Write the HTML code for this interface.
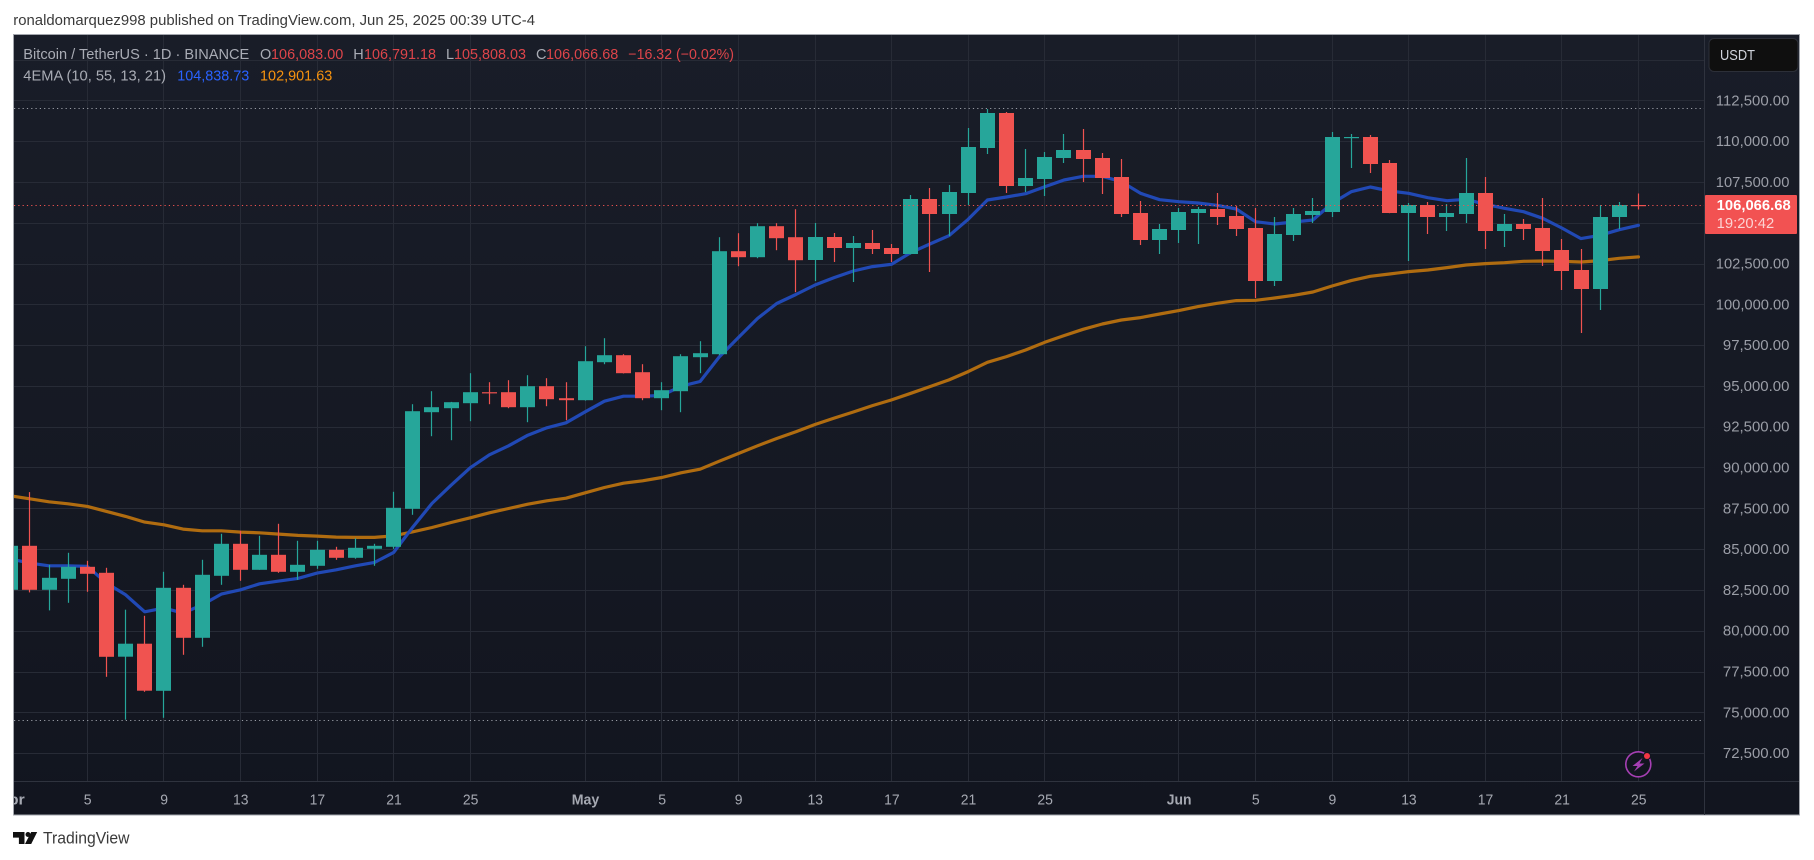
<!DOCTYPE html>
<html lang="en">
<head>
<meta charset="utf-8">
<title>Bitcoin / TetherUS 1D chart</title>
<style>
html,body{margin:0;padding:0;background:#fff;width:1814px;height:860px;overflow:hidden}
svg{display:block}
text{font-family:"Liberation Sans",sans-serif}
</style>
</head>
<body>
<svg id="chart" xmlns="http://www.w3.org/2000/svg" width="1814" height="860" viewBox="0 0 1814 860">
  <defs>
    <linearGradient id="bg" x1="0" y1="0" x2="0" y2="1">
      <stop offset="0" stop-color="#191d28"/>
      <stop offset="1" stop-color="#12151f"/>
    </linearGradient>
    <clipPath id="pane"><rect x="14" y="35" width="1690" height="746"/></clipPath>
    <clipPath id="timeclip"><rect x="14" y="782" width="1690" height="33"/></clipPath>
  </defs>
  <rect x="0" y="0" width="1814" height="860" fill="#ffffff"/>
  <text x="13.3" y="25" font-size="14.5" fill="#3a3a3a" textLength="521.7" lengthAdjust="spacingAndGlyphs">ronaldomarquez998 published on TradingView.com, Jun 25, 2025 00:39 UTC-4</text>
  <rect x="13.5" y="34.5" width="1786" height="780.5" fill="url(#bg)" stroke="#a3a6ad" stroke-width="1"/>
  <g id="grid" clip-path="url(#pane)"></g>
  <g id="emas" clip-path="url(#pane)"></g>
  <g id="hilo" clip-path="url(#pane)"></g>
  <g id="candles" clip-path="url(#pane)"></g>
  <line x1="1704.5" y1="35" x2="1704.5" y2="815" stroke="#2f333e" stroke-width="1"/>
  <line x1="14" y1="781.5" x2="1799" y2="781.5" stroke="#2f333e" stroke-width="1"/>
  <g id="timeAxis" clip-path="url(#timeclip)"></g>
  <g id="priceAxis"></g>

  <g font-size="14.5">
    <text x="23.3" y="59" fill="#a9acb5" textLength="226" lengthAdjust="spacingAndGlyphs">Bitcoin / TetherUS · 1D · BINANCE</text>
    <text x="260" y="59" fill="#a9acb5">O</text>
    <text x="271" y="59" fill="#dd454a" textLength="72.3" lengthAdjust="spacingAndGlyphs">106,083.00</text>
    <text x="353.3" y="59" fill="#a9acb5">H</text>
    <text x="364" y="59" fill="#dd454a" textLength="72" lengthAdjust="spacingAndGlyphs">106,791.18</text>
    <text x="446" y="59" fill="#a9acb5">L</text>
    <text x="454" y="59" fill="#dd454a" textLength="72" lengthAdjust="spacingAndGlyphs">105,808.03</text>
    <text x="536" y="59" fill="#a9acb5">C</text>
    <text x="546" y="59" fill="#dd454a" textLength="72.3" lengthAdjust="spacingAndGlyphs">106,066.68</text>
    <text x="628.3" y="59" fill="#dd454a" textLength="105.7" lengthAdjust="spacingAndGlyphs">−16.32 (−0.02%)</text>
    <text x="23.3" y="80.3" fill="#a9acb5" textLength="142.7" lengthAdjust="spacingAndGlyphs">4EMA (10, 55, 13, 21)</text>
    <text x="177.3" y="80.3" fill="#2962ff" textLength="72" lengthAdjust="spacingAndGlyphs">104,838.73</text>
    <text x="260" y="80.3" fill="#f7930f" textLength="72.3" lengthAdjust="spacingAndGlyphs">102,901.63</text>
  </g>

  <g>
    <rect x="1709" y="38.5" width="89" height="33" rx="5" fill="#0f0f0f" stroke="#2c2f38"/>
    <text x="1720" y="60" font-size="14.5" fill="#d1d4dc" textLength="35" lengthAdjust="spacingAndGlyphs">USDT</text>
  </g>

  <g>
    <rect x="1705" y="195" width="92" height="39" rx="1" fill="#f25252"/>
    <text x="1716.7" y="210" font-size="14.5" font-weight="bold" fill="#ffffff" textLength="74" lengthAdjust="spacingAndGlyphs">106,066.68</text>
    <text x="1716.7" y="228" font-size="14.5" fill="#fcd3d3" textLength="57.5" lengthAdjust="spacingAndGlyphs">19:20:42</text>
  </g>

  <g>
    <circle cx="1638.3" cy="764.3" r="12.5" fill="#12151f" stroke="#a53fb3" stroke-width="1.6"/>
    <path d="M1642.5 758 L1632.5 766 L1637.5 766 L1634 771.5 L1644.5 763.5 L1639.5 763.5 Z" fill="#a53fb3"/>
    <circle cx="1647" cy="756" r="4" fill="#12151f"/>
    <circle cx="1647" cy="756" r="3" fill="#f23645"/>
  </g>

  <g>
    <path d="M13 832h11.5v12h-5.6v-6.4H13z" fill="#111111"/>
    <circle cx="28" cy="834.5" r="2.5" fill="#111111"/>
    <path d="M31.2 832H37.2L31.2 844H25Z" fill="#111111"/>
    <text x="43" y="843.5" font-size="16.5" fill="#3a3a3a" textLength="86.5" lengthAdjust="spacingAndGlyphs">TradingView</text>
  </g>
</svg>

<script>
const categories = ['Apr 1','Apr 2','Apr 3','Apr 4','Apr 5','Apr 6','Apr 7','Apr 8','Apr 9','Apr 10','Apr 11','Apr 12','Apr 13','Apr 14','Apr 15','Apr 16','Apr 17','Apr 18','Apr 19','Apr 20','Apr 21','Apr 22','Apr 23','Apr 24','Apr 25','Apr 26','Apr 27','Apr 28','Apr 29','Apr 30',
'May 1','May 2','May 3','May 4','May 5','May 6','May 7','May 8','May 9','May 10','May 11','May 12','May 13','May 14','May 15','May 16','May 17','May 18','May 19','May 20','May 21','May 22','May 23','May 24','May 25','May 26','May 27','May 28','May 29','May 30','May 31',
'Jun 1','Jun 2','Jun 3','Jun 4','Jun 5','Jun 6','Jun 7','Jun 8','Jun 9','Jun 10','Jun 11','Jun 12','Jun 13','Jun 14','Jun 15','Jun 16','Jun 17','Jun 18','Jun 19','Jun 20','Jun 21','Jun 22','Jun 23','Jun 24','Jun 25'];

const opens = [82509,85204,82509,83183,83918,83550,78404,79201,76321,82631,79568,83366,85327,83734,84653,83611,83979,84959,84469,85020,85143,87471,93390,93635,93941,94615,94615,93696,94982,94247,
94125,96453,96882,95840,94247,94676,96759,96943,103252,102885,104784,104110,102716,104125,103451,103757,103451,103083,106453,105534,106820,109577,111721,107249,107678,108964,109454,108964,107800,105595,103941,
104554,105595,105840,105411,104676,101429,104247,105473,105656,110190,110251,108658,105595,106085,105350,105534,106820,104493,104921,104676,103328,102103,100939,105350,106083.00];

const highs = [85487,88492,84040,84775,84285,83856,81284,80916,83611,82815,84347,85939,86123,85817,86552,85510,85510,85143,85653,85327,88512,93880,94676,94020,95779,95228,95350,95656,95473,95228,
97433,97923,96943,96330,95228,96943,97739,104110,104355,104968,104968,105825,104982,104370,104186,104554,103696,106698,107127,107310,110802,111966,111782,109516,109332,110434,110741,109271,108903,106330,104921,
105901,105963,106820,106024,105901,105350,105901,106514,110557,110435,110373,108842,106208,106269,106147,108964,107800,105534,105228,106514,104002,103390,106085,106269,106791.18];

const lows = [82434,82345,81243,81712,82386,77179,74545,76260,74667,78527,79017,82815,83060,83734,83550,83121,83795,84347,84408,83979,85020,87103,91919,91674,92838,93880,93635,92777,93757,92900,
94100,96330,95760,94125,93512,93390,95779,96882,102334,102824,103314,100741,101429,102593,101368,103083,102593,103060,101981,104186,106085,109209,106820,106881,106637,108658,107494,106759,105350,103635,103083,
103757,103696,104860,104186,100388,101123,103880,104982,105350,108352,108045,105580,102655,104309,104493,104982,103390,103512,103941,102348,100878,98244,99653,104615,105808.03];

const closes = [85204,82509,83244,83918,83489,78404,79201,76321,82631,79568,83428,85327,83734,84653,83611,84040,84959,84469,85082,85204,87532,93451,93696,94002,94615,94554,93696,94982,94186,94125,
96514,96882,95779,94247,94737,96820,97004,103252,102885,104784,104049,102701,104125,103451,103757,103390,103083,106453,105534,106881,109638,111721,107249,107739,109026,109454,108903,107739,105534,103941,104615,
105656,105840,105350,104615,101429,104309,105534,105718,110251,110251,108597,105595,106085,105350,105595,106820,104493,104921,104615,103267,102042,100939,105350,106085,106066.68];

const emaFast = [84387,84142,83979,83979,83938,82917,82202,81161,81386,81080,81590,82243,82509,82876,83040,83203,83530,83734,83979,84183,84796,86348,87800,88918,89990,90780,91327,91981,92430,92736,
93410,94064,94370,94370,94411,94982,95268,96779,97964,99128,100047,100598,101184,101634,102042,102307,102450,103165,103696,104206,105207,106391,106575,106779,107208,107617,107841,107841,107514,106800,106412,
106289,106208,106065,105840,105064,104921,105044,105166,106187,106902,107188,106943,106800,106534,106351,106432,106126,105881,105677,105268,104676,104023,104227,104574,104838.73];

const emaSlow = [88267,88083,87900,87777,87614,87307,87001,86654,86491,86225,86123,86123,86041,86000,85919,85837,85796,85735,85715,85715,85817,86059,86324,86630,86917,87223,87488,87754,87958,88121,
88448,88775,89040,89183,89387,89673,89898,90388,90858,91327,91777,92185,92634,93030,93400,93790,94140,94548,94956,95365,95875,96447,96794,97202,97672,98080,98468,98795,99040,99183,99408,
99612,99857,100061,100225,100245,100388,100551,100756,101123,101450,101715,101858,102001,102103,102246,102410,102491,102552,102634,102655,102634,102593,102675,102818,102901.63];

const gridPrices = [115000,112500,110000,107500,105000,102500,100000,97500,95000,92500,90000,87500,85000,82500,80000,77500,75000,72500];
const priceTickLabels = ['112,500.00','110,000.00','107,500.00','102,500.00','100,000.00','97,500.00','95,000.00','92,500.00','90,000.00','87,500.00','85,000.00','82,500.00','80,000.00','77,500.00','75,000.00','72,500.00'];
const timeTickDates = ['Apr 1','Apr 5','Apr 9','Apr 13','Apr 17','Apr 21','Apr 25','May 1','May 5','May 9','May 13','May 17','May 21','May 25','Jun 1','Jun 5','Jun 9','Jun 13','Jun 17','Jun 21','Jun 25'];
const timeTickLabels = ['Apr','5','9','13','17','21','25','May','5','9','13','17','21','25','Jun','5','9','13','17','21','25'];
const lastPrice = 106066.68;
const periodHigh = 111980;
const periodLow = 74508;

const NS = 'http://www.w3.org/2000/svg';
function xScale(i){ return 10.7 + 19.15 * i; }
function yScale(p){ return 100.3 + (112500 - p) * 40.8 / 2500; }
function make(tag, parent){
  const el = document.createElementNS(NS, tag);
  parent.appendChild(el);
  return el;
}
function parsePrice(s){ return Number(s.replace(/,/g, '')); }

const gridG = document.getElementById('grid');
gridPrices.forEach(function(p){
  const el = make('line', gridG);
  
  
  const y = Math.round(yScale(p)) + 0.5;
  el.setAttribute('x1', 14); el.setAttribute('x2', 1704);
  el.setAttribute('y1', y); el.setAttribute('y2', y);
  el.setAttribute('stroke', '#272b36');
});
timeTickDates.forEach(function(d){
  const el = make('line', gridG);
  
  
  const x = Math.floor(xScale(categories.indexOf(d))) + 0.5;
  el.setAttribute('x1', x); el.setAttribute('x2', x);
  el.setAttribute('y1', 35); el.setAttribute('y2', 781);
  el.setAttribute('stroke', '#272b36');
});

function drawLine(values, color){
  const el = make('polyline', document.getElementById('emas'));
  el.setAttribute('points', values.map(function(v, i){ return xScale(i).toFixed(1) + ',' + yScale(v).toFixed(1); }).join(' '));
  el.setAttribute('fill', 'none');
  el.setAttribute('stroke', color);
  el.setAttribute('stroke-width', '3.2');
  el.setAttribute('stroke-linejoin', 'round');
  el.setAttribute('stroke-linecap', 'round');
  return el;
}
const slowLine = drawLine(emaSlow, '#b06c10');


const fastLine = drawLine(emaFast, '#2149b5');



function drawDotted(price, color){
  const el = make('line', document.getElementById('hilo'));
  const y = Math.round(yScale(price) - 0.5) + 0.5;
  el.setAttribute('x1', 14); el.setAttribute('x2', 1704);
  el.setAttribute('y1', y); el.setAttribute('y2', y);
  el.setAttribute('stroke', color);
  el.setAttribute('stroke-dasharray', '1.2 3.1');
  return el;
}
const highLine = drawDotted(periodHigh, '#9a9da6');


const lowLine = drawDotted(periodLow, '#9a9da6');



const candleG = document.getElementById('candles');
categories.forEach(function(d, i){
  const color = closes[i] >= opens[i] ? '#26a69a' : '#f05350';
  const cx = Math.floor(xScale(i));
  const wick = make('rect', candleG);
  
  
  wick.setAttribute('x', cx - 0.1);
  wick.setAttribute('width', 1.2);
  wick.setAttribute('y', yScale(highs[i]).toFixed(1));
  wick.setAttribute('height', (yScale(lows[i]) - yScale(highs[i])).toFixed(1));
  wick.setAttribute('fill', color);
  const body = make('rect', candleG);
  
  
  const top = yScale(Math.max(opens[i], closes[i]));
  const bot = yScale(Math.min(opens[i], closes[i]));
  body.setAttribute('x', cx - 7);
  body.setAttribute('width', 15);
  body.setAttribute('y', top.toFixed(1));
  body.setAttribute('height', Math.max(bot - top, 1.2).toFixed(1));
  body.setAttribute('fill', color);
});

(function(){
  const el = make('line', candleG);
  
  
  const y = Math.round(yScale(lastPrice) - 0.5) + 0.5;
  el.setAttribute('x1', 14); el.setAttribute('x2', 1704);
  el.setAttribute('y1', y); el.setAttribute('y2', y);
  el.setAttribute('stroke', '#f05350');
  el.setAttribute('stroke-dasharray', '1.2 3.1');
})();

const priceG = document.getElementById('priceAxis');
priceTickLabels.forEach(function(label){
  const el = make('text', priceG);
  
  
  el.textContent = label;
  const w = label.length === 10 ? 73.6 : 66.5;
  el.setAttribute('x', 1789.4 - w);
  el.setAttribute('y', yScale(parsePrice(label)) + 5);
  el.setAttribute('font-size', 14.5);
  el.setAttribute('fill', '#9b9ea7');
  el.setAttribute('textLength', w);
  el.setAttribute('lengthAdjust', 'spacingAndGlyphs');
});

const timeG = document.getElementById('timeAxis');
timeTickLabels.forEach(function(label, k){
  const el = make('text', timeG);
  
  
  el.textContent = label;
  const isMonth = /[A-Za-z]/.test(label);
  const w = isMonth ? (label === 'Jun' ? 24.7 : 27.6) : (label.length === 2 ? 15.5 : 7.8);
  el.setAttribute('x', xScale(categories.indexOf(timeTickDates[k])) + 0.3 - w / 2);
  el.setAttribute('y', 804.5);
  el.setAttribute('font-size', 15);
  if (isMonth) el.setAttribute('font-weight', 'bold');
  el.setAttribute('fill', '#a5a8b1');
  el.setAttribute('textLength', w);
  el.setAttribute('lengthAdjust', 'spacingAndGlyphs');
});
</script>
</body>
</html>
